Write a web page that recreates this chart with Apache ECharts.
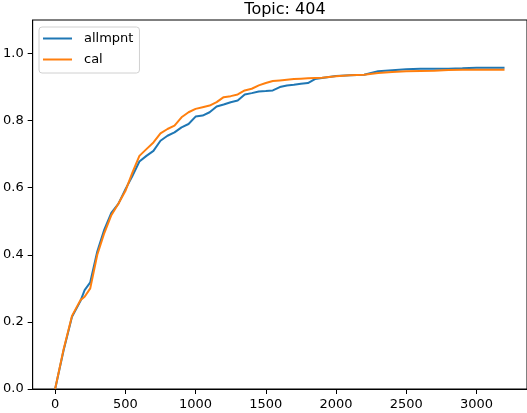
<!DOCTYPE html>
<html>
<head>
<meta charset="utf-8">
<script src="https://cdn.jsdelivr.net/npm/echarts@6/dist/echarts.min.js"></script>
<style>
  html, body { margin: 0; padding: 0; background: #fff; }
  #chart { width: 527px; height: 413px; }
</style>
</head>
<body>
<div id="chart"></div>
<script>
const xValues = [0, 60, 120, 180, 210, 250, 300, 350, 400, 450, 500, 550, 600, 650, 700, 750,
  800, 850, 900, 950, 1000, 1050, 1100, 1150, 1200, 1250, 1300, 1350, 1400, 1450, 1500,
  1550, 1600, 1650, 1700, 1750, 1800, 1850, 1900, 1950, 2000, 2100, 2200, 2300, 2400,
  2500, 2600, 2700, 2800, 2900, 3000, 3100, 3200];

const allmpnt = [0, 0.115, 0.215, 0.262, 0.295, 0.318, 0.41, 0.475, 0.525, 0.552, 0.595, 0.635,
  0.678, 0.695, 0.71, 0.74, 0.755, 0.765, 0.78, 0.79, 0.812, 0.815, 0.825, 0.842, 0.848,
  0.855, 0.86, 0.878, 0.882, 0.887, 0.888, 0.89, 0.9, 0.905, 0.907, 0.91, 0.912, 0.924,
  0.927, 0.93, 0.933, 0.935, 0.937, 0.947, 0.95, 0.953, 0.955, 0.955, 0.955, 0.956,
  0.958, 0.958, 0.958];

const cal = [0, 0.118, 0.218, 0.265, 0.275, 0.3, 0.4, 0.465, 0.518, 0.552, 0.59, 0.645,
  0.695, 0.715, 0.735, 0.762, 0.775, 0.785, 0.81, 0.825, 0.835, 0.84, 0.845, 0.855, 0.87,
  0.873, 0.878, 0.89, 0.895, 0.905, 0.912, 0.918, 0.92, 0.922, 0.924, 0.925, 0.926,
  0.927, 0.928, 0.93, 0.932, 0.935, 0.937, 0.942, 0.945, 0.947, 0.948, 0.949, 0.951,
  0.952, 0.952, 0.952, 0.952];

const xTicks = [0, 500, 1000, 1500, 2000, 2500, 3000];
const yTicks = [0, 0.2, 0.4, 0.6, 0.8, 1.0];

const font = 'DejaVu Sans';
const chart = echarts.init(document.getElementById('chart'));

function pairs(ys) {
  return xValues.map((x, i) => [x, ys[i]]);
}

chart.setOption({
  animation: false,
  title: {
    text: 'Topic: 404',
    left: 280,
    top: -3,
    textAlign: 'center',
    textStyle: { fontFamily: font, fontSize: 16, fontWeight: 'normal', color: '#000' },
  },
  legend: {
    orient: 'vertical',
    left: 39,
    top: 27,
    padding: [5, 6, 7, 4],
    itemWidth: 29,
    itemHeight: 2,
    itemGap: 8,
    icon: 'rect',
    borderColor: '#d0d0d0',
    borderWidth: 1,
    borderRadius: 3,
    backgroundColor: 'rgba(255,255,255,0.8)',
    textStyle: { fontFamily: font, fontSize: 13, color: '#000', padding: [0, 0, 0, 7] },
    data: ['allmpnt', 'cal'],
  },
  grid: {
    left: 32,
    top: 20,
    right: -2,
    bottom: 24,
    show: true,
    borderColor: '#000',
    borderWidth: 1,
  },
  xAxis: {
    type: 'value',
    min: -160,
    max: 3360,
    splitLine: { show: false },
    axisLine: { onZero: false, lineStyle: { color: '#000', width: 1 } },
    axisTick: { length: 5, lineStyle: { color: '#000' }, customValues: xTicks },
    axisLabel: {
      margin: 9, fontFamily: font, fontSize: 13, color: '#000',
      customValues: xTicks,
      formatter: v => String(v),
    },
  },
  yAxis: {
    type: 'value',
    min: 0,
    max: 1.1,
    splitLine: { show: false },
    axisLine: { show: true, onZero: false, lineStyle: { color: '#000', width: 1 } },
    axisTick: { show: true, length: 5, lineStyle: { color: '#000' }, customValues: yTicks },
    axisLabel: {
      margin: 9, fontFamily: font, fontSize: 13, color: '#000',
      customValues: yTicks,
      formatter: v => v.toFixed(1),
    },
  },
  series: [
    {
      name: 'allmpnt',
      type: 'line',
      data: pairs(allmpnt),
      showSymbol: false,
      color: '#1f77b4',
      lineStyle: { width: 2, color: '#1f77b4' },
    },
    {
      name: 'cal',
      type: 'line',
      data: pairs(cal),
      showSymbol: false,
      color: '#ff7f0e',
      lineStyle: { width: 2, color: '#ff7f0e' },
    },
  ],
});
</script>
</body>
</html>
